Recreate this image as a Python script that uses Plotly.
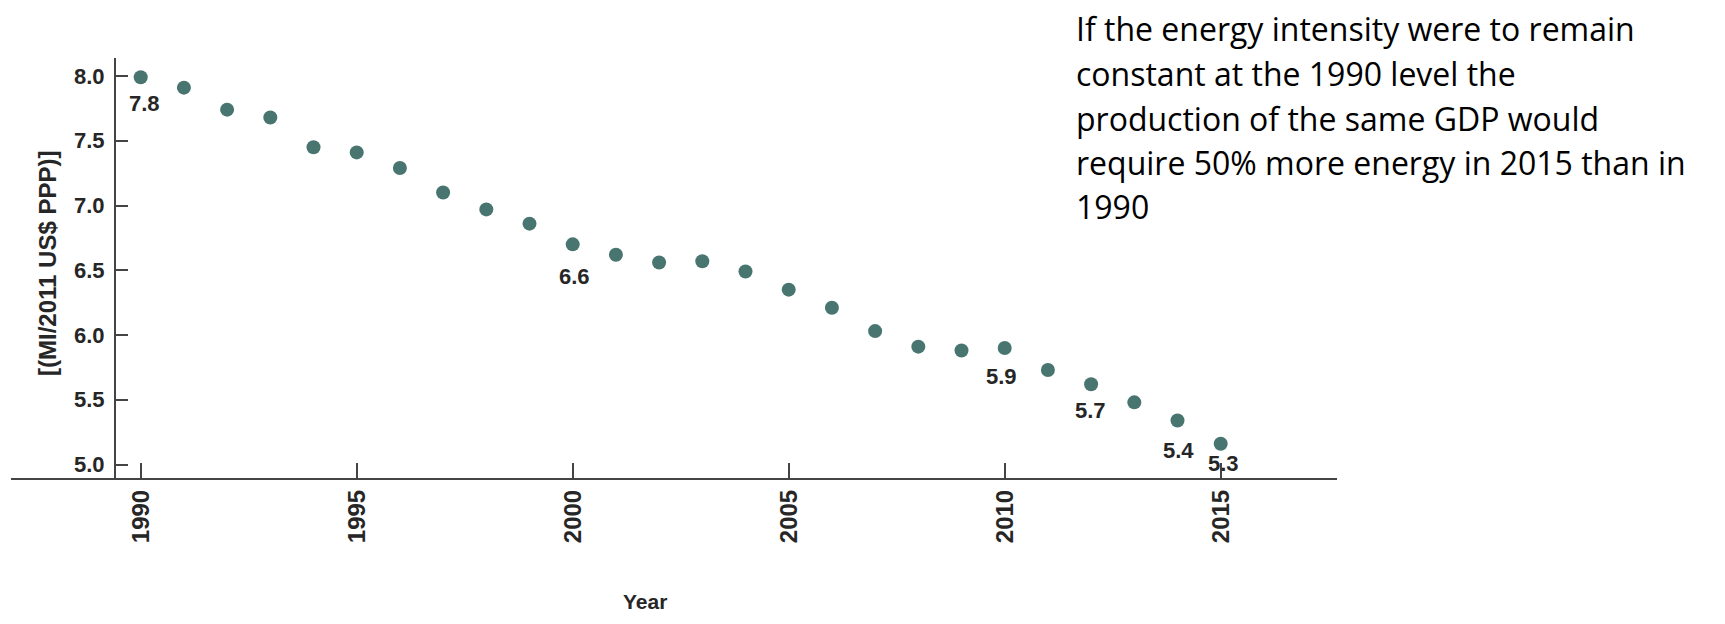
import plotly.graph_objects as go

# ---- data ----
years = list(range(1990, 2016))
intensity = [7.99, 7.91, 7.74, 7.68, 7.45, 7.41, 7.29, 7.10, 6.97, 6.86,
             6.70, 6.62, 6.56, 6.57, 6.49, 6.35, 6.21, 6.03, 5.91, 5.88,
             5.90, 5.73, 5.62, 5.48, 5.34, 5.16]
label_years = [1990, 2000, 2010, 2012, 2014, 2015]
label_texts = ["7.8", "6.6", "5.9", "5.7", "5.4", "5.3"]
ytick_vals = [5.0, 5.5, 6.0, 6.5, 7.0, 7.5, 8.0]
ytick_text = ["5.0", "5.5", "6.0", "6.5", "7.0", "7.5", "8.0"]
xtick_vals = [1990, 1995, 2000, 2005, 2010, 2015]
xtick_text = ["1990", "1995", "2000", "2005", "2010", "2015"]
note_lines = ["If the energy intensity were to remain",
              "constant at the 1990 level the",
              "production of the same GDP would",
              "require 50% more energy in 2015 than in",
              "1990"]
y_title = "[(MI/2011 US$ PPP)]"
x_title = "Year"

# ---- style ----
OFF = 8                      # default page body margin
W, H = 1725 - 2 * OFF, 624 - 2 * OFF
# plot area in page pixels: x 116..1337, y 58..479
PL, PR, PT, PB = 116, 1337, 58, 479
ML, MR, MT, MB = PL - OFF, W - (PR - OFF), PT - OFF, H - (PB - OFF)
PW, PH = PR - PL, PB - PT
AX = "#444444"
TXT = "#262626"
DOT = "#497571"
BOLD = "Liberation Sans, Arial, sans-serif"
label_shift = {1990: (4, -26), 2000: (2, -32), 2010: (-3, -29),
               2012: (-1, -26), 2014: (1, -30), 2015: (3, -20)}

def px_x(px):
    return (px - PL) / PW

def px_y(py):
    return (PB - py) / PH

fig = go.Figure()
fig.add_trace(go.Scatter(
    x=years, y=intensity, mode="markers",
    marker=dict(size=14, color=DOT, line=dict(width=0)),
    hoverinfo="x+y", showlegend=False))

annotations = []
val_by_year = dict(zip(years, intensity))
for yr, txt in zip(label_years, label_texts):
    dx, dy = label_shift[yr]
    annotations.append(dict(
        x=yr, y=val_by_year[yr], xref="x", yref="y", text=txt,
        showarrow=False, xshift=dx, yshift=dy,
        font=dict(family=BOLD, size=22, color=TXT, weight="bold")))

# note text, one annotation per line
centers = [29, 73.5, 118, 162.5, 207]
for line, c in zip(note_lines, centers):
    annotations.append(dict(
        x=px_x(1074), y=px_y(c), xref="paper", yref="paper",
        text=line, showarrow=False, xanchor="left", yanchor="middle",
        font=dict(family="Open Sans, Lato, sans-serif", size=32, color="#000000")))

annotations.append(dict(
    x=px_x(48), y=px_y(264), xref="paper", yref="paper", text=y_title,
    textangle=-90, showarrow=False, xanchor="center", yanchor="middle",
    font=dict(family=BOLD, size=24, color=TXT, weight="bold")))
annotations.append(dict(
    x=px_x(645), y=px_y(602), xref="paper", yref="paper", text=x_title,
    showarrow=False, xanchor="center", yanchor="middle",
    font=dict(family=BOLD, size=21, color=TXT, weight="bold")))

shapes = [dict(type="line", xref="paper", yref="paper",
               x0=px_x(11), x1=1.0, y0=0, y1=0,
               line=dict(color=AX, width=2))]

fig.update_layout(
    width=W, height=H,
    margin=dict(l=ML, r=MR, t=MT, b=MB, autoexpand=False),
    paper_bgcolor="white", plot_bgcolor="white",
    xaxis=dict(range=[1989.428, 2017.692], showgrid=False, zeroline=False,
               showline=False, ticks="inside", ticklen=16, tickwidth=2,
               tickcolor=AX, tickvals=xtick_vals, ticktext=xtick_text,
               tickangle=-90, ticklabelstandoff=5,
               tickfont=dict(family=BOLD, size=24, color=TXT, weight="bold")),
    yaxis=dict(range=[4.888, 8.139], showgrid=False, zeroline=False,
               showline=True, linecolor=AX, linewidth=2,
               ticks="inside", ticklen=12, tickwidth=2, tickcolor=AX,
               tickvals=ytick_vals, ticktext=ytick_text,
               ticklabelstandoff=5,
               tickfont=dict(family=BOLD, size=22, color=TXT, weight="bold")),
    annotations=annotations, shapes=shapes,
)

fig.write_html("out.html")
